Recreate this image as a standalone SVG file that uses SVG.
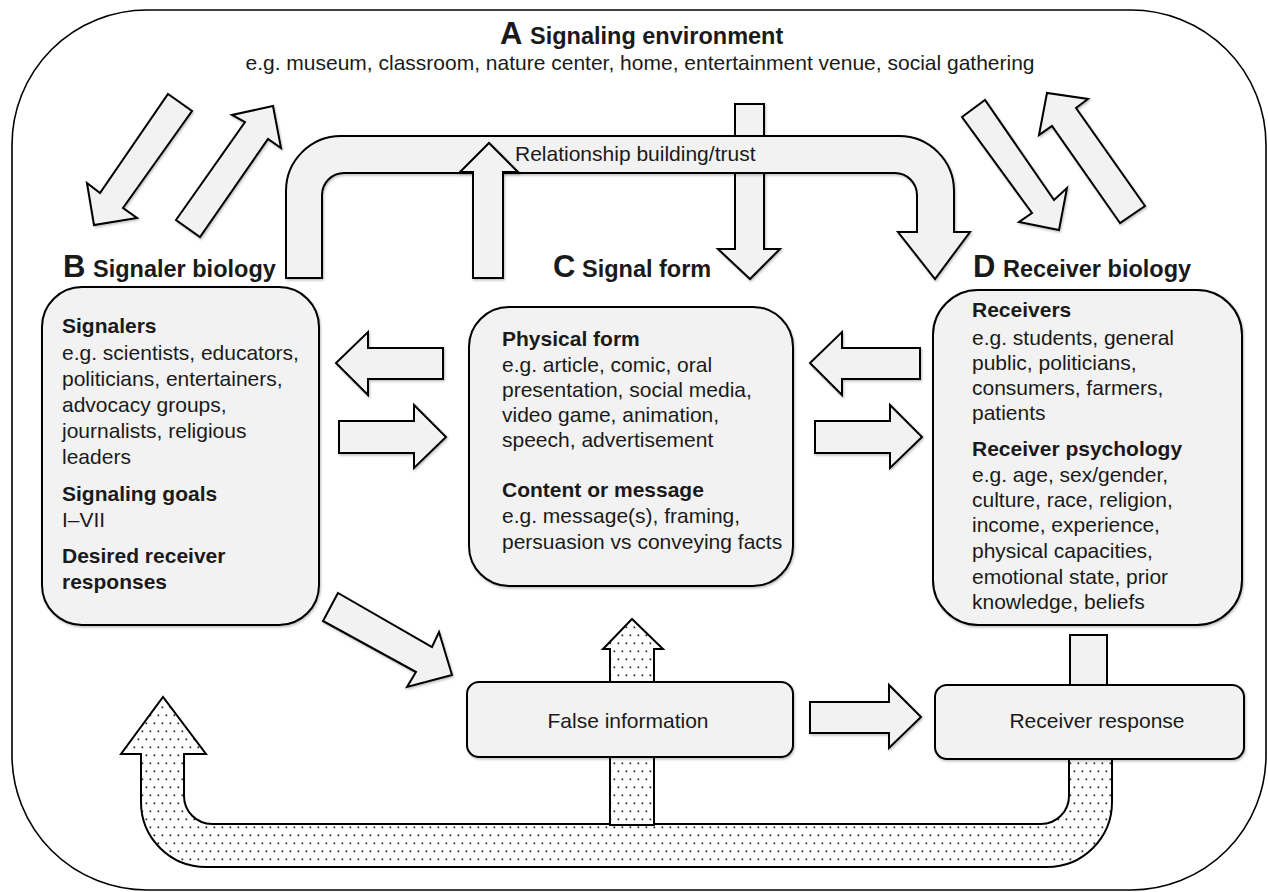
<svg xmlns="http://www.w3.org/2000/svg" width="1268" height="892" viewBox="0 0 1268 892">
<style>
  text { font-family: "Liberation Sans", Arial, sans-serif; fill: #1a1a1a; }
  .t { font-size: 21px; }
  .b { font-size: 21px; font-weight: bold; }
  .big { font-size: 31px; font-weight: bold; }
  .hd { font-size: 23.5px; font-weight: bold; }
  .g { fill: #f2f2f2; stroke: #000; stroke-width: 2; stroke-linejoin: miter; }
  .d { fill: url(#dots); stroke: #000; stroke-width: 2; }
  .box { fill: #f2f2f2; stroke: #000; stroke-width: 2; }
</style>
<defs>
  <pattern id="dots" width="8" height="16" patternUnits="userSpaceOnUse">
    <rect width="8" height="16" fill="#fff"/>
    <rect x="1.5" y="2.5" width="1.7" height="1.7" fill="#222"/>
    <rect x="5.5" y="10.5" width="1.7" height="1.7" fill="#222"/>
  </pattern>
  <filter id="sh" x="-10%" y="-10%" width="130%" height="130%">
    <feDropShadow dx="1" dy="1.5" stdDeviation="1.2" flood-color="#000" flood-opacity="0.25"/>
  </filter>
</defs>

<g id="environment">
  <rect x="12" y="10" width="1254" height="880" rx="135" ry="135" fill="#fff" stroke="#000" stroke-width="1.6"/>
  <text class="big" x="500" y="44">A</text>
  <text class="hd" x="530" y="44">Signaling environment</text>
  <text class="t" x="640" y="70" text-anchor="middle">e.g. museum, classroom, nature center, home, entertainment venue, social gathering</text>
</g>

<g id="connectors">
  <polygon class="g" filter="url(#sh)" points="168,94 192,111 123,208 137,218 94,225 87,183 100,193"/>
  <polygon class="g" filter="url(#sh)" points="176,220 245,122 232,115 273,106 281,148 268,139 200,237"/>
  <polygon class="g" filter="url(#sh)" points="962,117 985,100 1054,200 1067,188 1059,230 1019,222 1032,213"/>
  <polygon class="g" filter="url(#sh)" points="1120,223 1052,126 1039,135 1047,93 1088,99 1076,108 1145,206"/>
  <polygon class="g" filter="url(#sh)" points="735,104 764,104 764,249 780,249 750,279 718,249 735,249"/>
  <path class="g" filter="url(#sh)" d="M 286,278 L 286,191 A 55,55 0 0 1 341,136 L 899,136 A 55,55 0 0 1 954,191 L 954,232 L 970,232 L 935,279 L 898,232 L 917,232 L 917,195 A 22,22 0 0 0 895,173 L 344,173 A 22,22 0 0 0 322,195 L 322,278 Z"/>
  <text class="t" x="515" y="161">Relationship building/trust</text>
  <polygon class="g" filter="url(#sh)" points="473,278 473,172 460,172 489,143 518,172 503,172 503,278"/>
  <polygon class="g" filter="url(#sh)" points="443,348 368,348 368,332 336,363 368,395 368,379 443,379"/>
  <polygon class="g" filter="url(#sh)" points="339,421 414,421 414,405 446,437 414,468 414,453 339,453"/>
  <polygon class="g" filter="url(#sh)" points="920,348 842,348 842,332 810,363 842,395 842,379 920,379"/>
  <polygon class="g" filter="url(#sh)" points="815,421 890,421 890,405 922,437 890,468 890,453 815,453"/>
  <polygon class="g" filter="url(#sh)" points="338,593 432,647 439,632 452,675 407,687 416,672 323,621"/>
  <polygon class="g" filter="url(#sh)" points="810,702 889,702 889,685 921,717 889,748 889,733 810,733"/>
  <rect class="g" x="1070" y="635" width="37" height="50"/>
  <path class="d" d="M 141,754 L 141,802 A 65,65 0 0 0 206,867 L 1047,867 A 65,65 0 0 0 1112,802 L 1112,740 L 1069,740 L 1069,796 A 28,28 0 0 1 1041,824 L 212,824 A 28,28 0 0 1 184,796 L 184,754 L 206,754 L 163,697 L 121,754 Z"/>
  <polygon class="d" points="610,825 610,649 603,649 632,619 663,649 654,649 654,825"/>
</g>

<g id="signaler">
  <text class="big" x="63" y="277">B</text>
  <text class="hd" x="93" y="277">Signaler biology</text>
  <rect class="box" filter="url(#sh)" x="42" y="287" width="277" height="338" rx="40" ry="40"/>
  <text class="b" x="62" y="333">Signalers</text>
  <text class="t" x="62" y="360">e.g. scientists, educators,</text>
  <text class="t" x="62" y="386">politicians, entertainers,</text>
  <text class="t" x="62" y="412">advocacy groups,</text>
  <text class="t" x="62" y="438">journalists, religious</text>
  <text class="t" x="62" y="464">leaders</text>
  <text class="b" x="62" y="501">Signaling goals</text>
  <text class="t" x="62" y="527">I–VII</text>
  <text class="b" x="62" y="563">Desired receiver</text>
  <text class="b" x="62" y="589">responses</text>
</g>

<g id="signal">
  <text class="big" x="553" y="277">C</text>
  <text class="hd" x="582" y="277">Signal form</text>
  <rect class="box" filter="url(#sh)" x="469" y="307" width="324" height="279" rx="40" ry="40"/>
  <text class="b" x="502" y="346">Physical form</text>
  <text class="t" x="502" y="372">e.g. article, comic, oral</text>
  <text class="t" x="502" y="397">presentation, social media,</text>
  <text class="t" x="502" y="422">video game, animation,</text>
  <text class="t" x="502" y="447">speech, advertisement</text>
  <text class="b" x="502" y="497">Content or message</text>
  <text class="t" x="502" y="523">e.g. message(s), framing,</text>
  <text class="t" x="502" y="549">persuasion vs conveying facts</text>
</g>

<g id="receiver">
  <text class="big" x="973" y="277">D</text>
  <text class="hd" x="1003" y="277">Receiver biology</text>
  <rect class="box" filter="url(#sh)" x="933" y="290" width="309" height="335" rx="45" ry="45"/>
  <text class="b" x="972" y="317">Receivers</text>
  <text class="t" x="972" y="345">e.g. students, general</text>
  <text class="t" x="972" y="370">public, politicians,</text>
  <text class="t" x="972" y="395">consumers, farmers,</text>
  <text class="t" x="972" y="420">patients</text>
  <text class="b" x="972" y="456">Receiver psychology</text>
  <text class="t" x="972" y="482">e.g. age, sex/gender,</text>
  <text class="t" x="972" y="507">culture, race, religion,</text>
  <text class="t" x="972" y="532">income, experience,</text>
  <text class="t" x="972" y="558">physical capacities,</text>
  <text class="t" x="972" y="584">emotional state, prior</text>
  <text class="t" x="972" y="609">knowledge, beliefs</text>
</g>

<g id="false-information">
  <rect class="box" filter="url(#sh)" x="467" y="682" width="326" height="75" rx="12" ry="12"/>
  <text class="t" x="628" y="728" text-anchor="middle">False information</text>
</g>

<g id="receiver-response">
  <rect class="box" filter="url(#sh)" x="935" y="685" width="309" height="74" rx="12" ry="12"/>
  <text class="t" x="1097" y="728" text-anchor="middle">Receiver response</text>
</g>
</svg>
